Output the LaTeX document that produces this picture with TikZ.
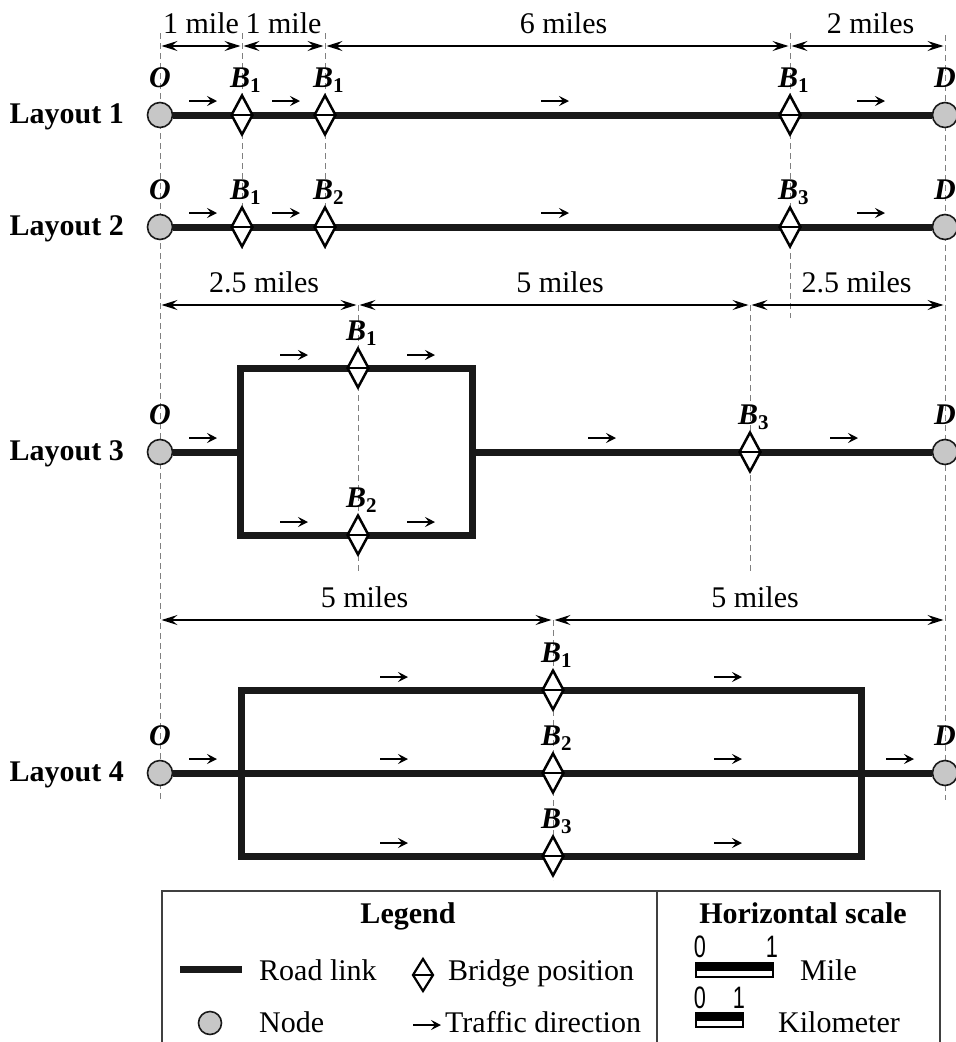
\documentclass[tikz,border=0pt]{standalone}
\usepackage{fontspec}
\setmainfont{Liberation Serif}
\newfontfamily\digitfont{Liberation Sans}
\usetikzlibrary{arrows.meta,shapes.geometric,backgrounds}
\newcommand\bigsize{\fontsize{30}{34}\selectfont}
\newcommand\bsub[1]{\textit{B}\textsubscript{\upshape#1}}
\newcommand\narrow[1]{\scalebox{0.7}[1]{\digitfont\fontsize{31}{31}\selectfont#1}}
\tikzset{
  road/.style={line width=7pt,black!90},
  guide/.style={gray,line width=0.9pt,dash pattern=on 6pt off 4pt},
  dim/.style={<->,>={Stealth[length=16pt,width=10pt,inset=6pt]},line width=1.3pt,shorten <=1.5pt,shorten >=1.5pt},
  flow/.style={-{Stealth[length=10pt,width=10pt,inset=4pt]},line width=1.7pt},
  endpt/.style={circle,draw=black!90,fill=black!22,line width=1.6pt,minimum size=25pt,inner sep=0pt},
  bridge/.style={diamond,draw,fill=white,line width=2.5pt,minimum width=22pt,minimum height=40pt,inner sep=0pt,
    path picture={\draw[line width=2.5pt](path picture bounding box.west)--(path picture bounding box.east);}},
  lab/.style={inner sep=0pt,anchor=base,font=\bigsize\bfseries\itshape},
  blab/.style={inner sep=0pt,anchor=base west,font=\bigsize\bfseries\itshape},
  dlab/.style={inner sep=0pt,anchor=base,pos=.5,yshift=13pt},
  lay/.style={inner sep=0pt,anchor=base east,font=\bigsize\bfseries},
  txt/.style={inner sep=0pt,anchor=base west}
}
\begin{document}
\begin{tikzpicture}[x=1pt,y=-1pt,font=\bigsize]
\useasboundingbox (0,0) rectangle (956,1042);
\foreach \k/\y in {1/115,2/227}{
  \node[endpt](O\k) at (160,\y) {};
  \node[endpt](D\k) at (945,\y) {};
  \foreach \i/\x in {1/242,2/325,3/790}
    \node[bridge](b\k\i) at (\x,\y) {};
  \node[lab](tO\k) at ([yshift=28pt]O\k) {O};
  \node[lab](tD\k) at ([yshift=28pt]D\k) {D};
  \node[lay](L\k) at ([xshift=-36pt,yshift=-8pt]O\k) {Layout \k};
}
\foreach \i in {1,2,3}{
  \node[blab](tb1\i) at ([xshift=-12pt,yshift=28pt]b1\i) {\bsub{1}};
  \node[blab](tb2\i) at ([xshift=-12pt,yshift=28pt]b2\i) {\bsub{\i}};
}
\node[endpt](O3) at (160,452) {};
\node[endpt](D3) at (945,452) {};
\node[bridge](b31) at (358,368) {};
\node[bridge](b32) at (358,535) {};
\node[bridge](b33) at (750,452) {};
\coordinate (a3) at (240,368); \coordinate (c3) at (472,535);
\coordinate (w3) at (240,452); \coordinate (e3) at (472,452);
\node[endpt](O4) at (160,773) {};
\node[endpt](D4) at (945,773) {};
\foreach \i/\y in {1/690,2/773,3/856}
  \node[bridge](b4\i) at (553,\y) {};
\coordinate (a4) at (241,690); \coordinate (c4) at (861,856);
\foreach \k in {3,4}{
  \node[lab](tO\k) at ([yshift=28pt]O\k) {O};
  \node[lab](tD\k) at ([yshift=28pt]D\k) {D};
  \node[lay](L\k) at ([xshift=-36pt,yshift=-8pt]O\k) {Layout \k};
  \foreach \i in {1,2,3}
    \node[blab](tb\k\i) at ([xshift=-12pt,yshift=28pt]b\k\i) {\bsub{\i}};
}
\begin{pgfonlayer}{background}
\foreach \x/\a/\b in {160/33/800,945/35/800,242/33/250,325/33/250,790/33/318,358/305/572,750/305/572,553/620/880}
  \draw[guide](\x,\a)--(\x,\b);
\draw[road](O1)--(D1) (O2)--(D2) (O3)--(w3) (e3)--(D3) (O4)--(D4);
\draw[road](a3) rectangle (c3) (a4) rectangle (c4);
\end{pgfonlayer}
\foreach \x/\y in {189/101,272/101,541/101,857/101,189/213,272/213,541/213,857/213,
  189/438,280/355,407/355,280/522,407/522,588/438,830/438,
  189/759,380/677,714/677,380/759,714/759,380/843,714/843,886/759}
  \draw[flow](\x,\y)--++(28,0);
\coordinate (g0) at (160,46); \coordinate (g1) at (242,46); \coordinate (g2) at (325,46);
\coordinate (g3) at (790,46); \coordinate (g4) at (945,46);
\draw[dim](g0)--node[dlab](m1){1 mile}(g1);
\draw[dim](g1)--node[dlab](m2){1 mile}(g2);
\draw[dim](g2)--node[dlab,xshift=6pt](m3){6 miles}(g3);
\draw[dim](g3)--node[dlab,xshift=3pt](m4){2 miles}(g4);
\coordinate (h0) at (160,305); \coordinate (h1) at (358,305);
\coordinate (h2) at (750,305); \coordinate (h3) at (945,305);
\draw[dim](h0)--node[dlab,xshift=5pt](n1){2.5 miles}(h1);
\draw[dim](h1)--node[dlab,xshift=6pt](n2){5 miles}(h2);
\draw[dim](h2)--node[dlab,xshift=9pt](n3){2.5 miles}(h3);
\coordinate (k0) at (160,620); \coordinate (k1) at (553,620); \coordinate (k2) at (945,620);
\draw[dim](k0)--node[dlab,xshift=8pt](p1){5 miles}(k1);
\draw[dim](k1)--node[dlab,xshift=6pt](p2){5 miles}(k2);
\draw[line width=1.3pt,black!75](162,1042)|-(940,891)--(940,1042) (657,891)--(657,1042);
\node[font=\bigsize\bfseries,anchor=base](leg) at (408,923) {Legend};
\node[font=\bigsize\bfseries,anchor=base](hsc) at (803,923) {Horizontal scale};
\coordinate (r0) at (180,969); \coordinate (r1) at (242,969);
\draw[road](r0)--(r1);
\node[txt](trl) at (259,980) {Road link};
\node[bridge,minimum width=21pt,minimum height=33pt,line width=2.2pt](lb) at (423,975) {};
\node[txt](tbp) at (448,980) {Bridge position};
\node[endpt,minimum size=23pt](ln) at (210,1023) {};
\node[txt](tn) at (259,1032) {Node};
\draw[flow](413,1025)--(441,1025);
\node[txt](ttd) at (445,1032) {Traffic direction};
\draw[line width=1.4pt](696,963) rectangle (773,977);
\fill(696,963) rectangle (773,971);
\draw[line width=1.4pt](696,1013) rectangle (743,1027);
\fill(696,1013) rectangle (743,1021);
\node[inner sep=0pt,anchor=base](s0) at (700,957) {\narrow{0}};
\node[inner sep=0pt,anchor=base](s1) at (772,957) {\narrow{1}};
\node[inner sep=0pt,anchor=base](q0) at (700,1008) {\narrow{0}};
\node[inner sep=0pt,anchor=base](q1) at (739,1008) {\narrow{1}};
\node[txt](tmi) at (800,980) {Mile};
\node[txt](tkm) at (778,1032) {Kilometer};
\end{tikzpicture}
\end{document}
